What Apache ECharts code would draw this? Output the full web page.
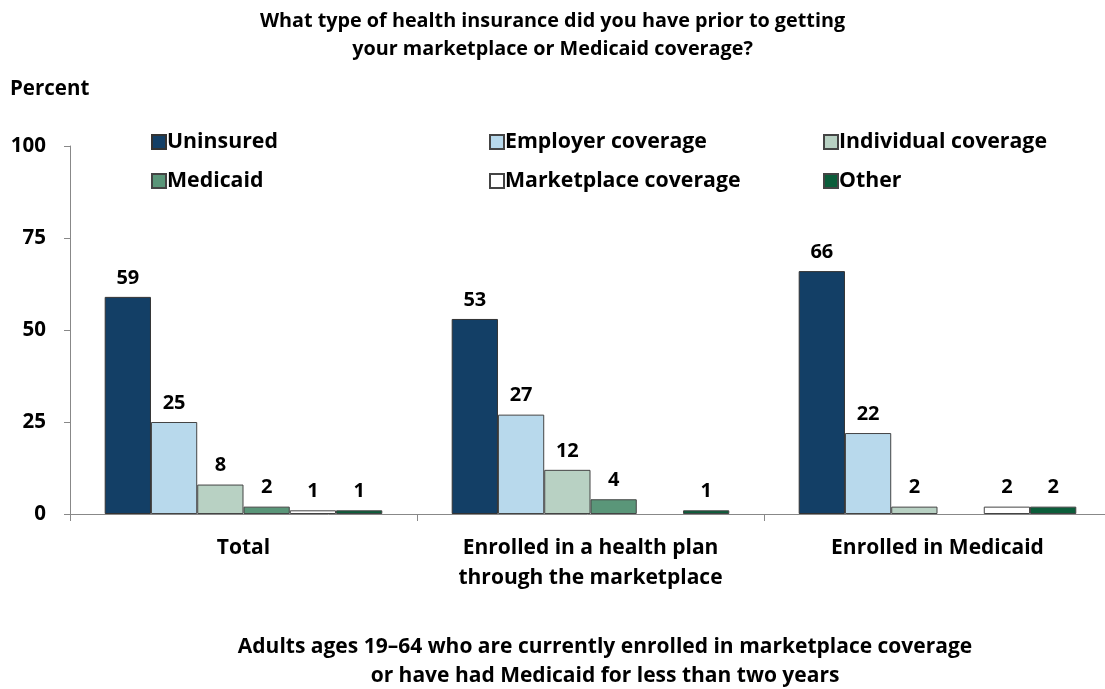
<!DOCTYPE html>
<html>
<head>
<meta charset="utf-8">
<style>html,body{margin:0;padding:0;background:#fff;}#c{width:1105px;height:689px;}</style>
<script src="https://cdn.jsdelivr.net/npm/echarts@6/dist/echarts.min.js"></script>
</head>
<body>
<div id="c"></div>
<script>
const categories = ['Total', 'Enrolled in a health plan\nthrough the marketplace', 'Enrolled in Medicaid'];
const seriesNames = ['Uninsured', 'Employer coverage', 'Individual coverage', 'Medicaid', 'Marketplace coverage', 'Other'];
const uninsured = [59, 53, 66];
const employer = [25, 27, 22];
const individual = [8, 12, 2];
const medicaid = [2, 4, null];
const marketplace = [1, null, 2];
const other = [1, 1, 2];
const yTicks = [0, 25, 50, 75, 100];

const colors = ['#133f66', '#b8d9ec', '#b8d1c3', '#5a9679', '#ffffff', '#0b5d3a'];
const values = [uninsured, employer, individual, medicaid, marketplace, other];
const FONT = 'Open Sans';

const chart = echarts.init(document.getElementById('c'), null, {renderer: 'canvas'});
const series = seriesNames.map((n, i) => ({
  name: n,
  type: 'bar',
  data: values[i],
  barGap: '0%',
  barCategoryGap: '20%',
  itemStyle: {color: colors[i], borderColor: i === 0 ? '#333' : '#444', borderWidth: 1},
  label: {show: true, position: 'top', distance: 9, fontFamily: FONT, fontWeight: 'bold', fontSize: 20, color: '#000'}
}));

const legendCommon = {
  orient: 'vertical', top: 124, itemWidth: 14, itemHeight: 14, itemGap: 13,
  icon: 'rect',
  textStyle: {fontFamily: FONT, fontWeight: 'bold', fontSize: 21.3, lineHeight: 26, color: '#000', padding: [0, 0, 0, -4]}
};

chart.setOption({
  animation: false,
  title: [
    {text: 'What type of health insurance did you have prior to getting\nyour marketplace or Medicaid coverage?', left: 'center', top: 3,
      textStyle: {fontFamily: FONT, fontWeight: 'bold', fontSize: 19.8, lineHeight: 27.5, color: '#000'}},
    {text: 'Percent', left: 5, top: 74, textStyle: {fontFamily: FONT, fontWeight: 'bold', fontSize: 20.5, color: '#000'}},
    {text: 'Adults ages 19\u201364 who are currently enrolled in marketplace coverage\nor have had Medicaid for less than two years', left: 600, textAlign: 'center', top: 628,
      textStyle: {fontFamily: FONT, fontWeight: 'bold', fontSize: 21, lineHeight: 28.5, color: '#000'}}
  ],
  legend: [
    Object.assign({left: 146, data: ['Uninsured', 'Medicaid']}, legendCommon),
    Object.assign({left: 484, data: ['Employer coverage', 'Marketplace coverage']}, legendCommon),
    Object.assign({left: 818, data: ['Individual coverage', 'Other']}, legendCommon)
  ],
  grid: {left: 70, width: 1041, top: 146, bottom: 175, containLabel: false, outerBoundsMode: 'none'},
  xAxis: {
    type: 'category', data: categories,
    axisLine: {lineStyle: {color: '#888', width: 1}},
    axisTick: {show: true, length: 7, lineStyle: {color: '#888'}},
    axisLabel: {fontFamily: FONT, fontWeight: 'bold', fontSize: 21, lineHeight: 30, color: '#000', margin: 19, interval: 0}
  },
  yAxis: {
    type: 'value', min: 0, max: 100, interval: 25,
    axisLine: {show: true, lineStyle: {color: '#888', width: 1}},
    axisTick: {show: true, length: 6, lineStyle: {color: '#888'}},
    splitLine: {show: false},
    axisLabel: {fontFamily: FONT, fontWeight: 'bold', fontSize: 20.5, color: '#000', margin: 24,
      formatter: v => yTicks.includes(v) ? String(v) : ''}
  },
  series: series
});
</script>
</body>
</html>
